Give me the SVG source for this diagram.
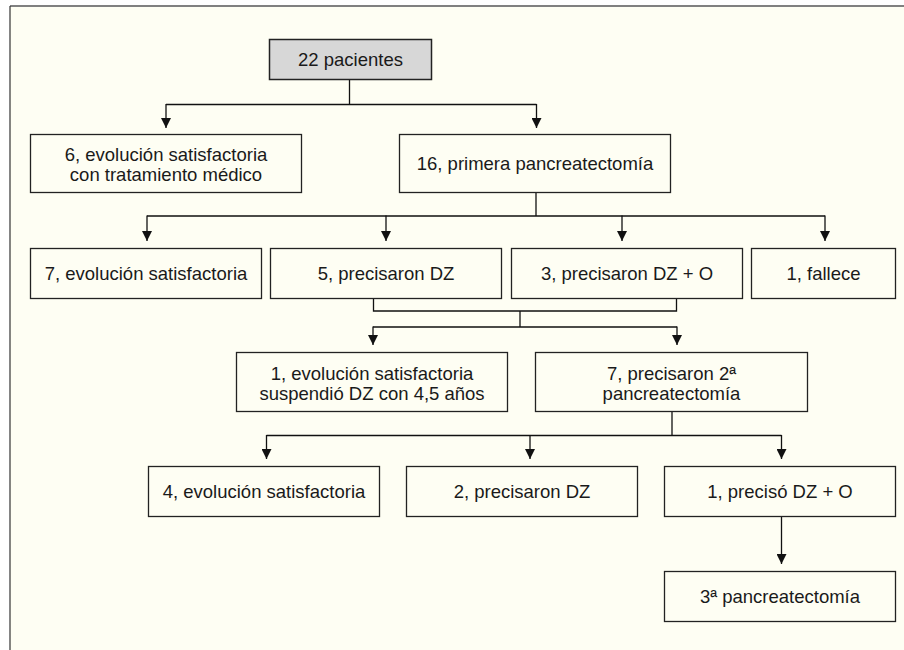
<svg xmlns="http://www.w3.org/2000/svg" width="904" height="650" viewBox="0 0 904 650">
<defs>
<style>
.box{fill:#fefef3;stroke:#222;stroke-width:1.3}
.gray{fill:#d7d7d7;stroke:#222;stroke-width:1.5}
.t{font-family:"Liberation Sans",Arial,Helvetica,sans-serif;font-size:18.5px;fill:#1a1a1a;text-anchor:middle}
.c{fill:none;stroke:#111;stroke-width:1.3}
.a{marker-end:url(#arr)}
</style>
<marker id="arr" markerUnits="userSpaceOnUse" markerWidth="10" markerHeight="10" refX="10" refY="5" orient="auto">
<path d="M0,0 L10,5 L0,10 z" fill="#111"/>
</marker>
</defs>
<rect x="0" y="0" width="904" height="650" fill="#ffffff"/>
<rect x="10" y="6" width="894" height="644" fill="#fefef3"/>
<line x1="10" y1="6" x2="904" y2="6" stroke="#808080" stroke-width="2"/>
<line x1="10" y1="6" x2="10" y2="650" stroke="#333" stroke-width="1.2"/>

<g id="connectors">
<path class="c" d="M349.5,80 V104.5 M166,104.5 H536.5"/>
<line class="c a" x1="166" y1="104" x2="166" y2="128"/>
<line class="c a" x1="536.5" y1="104" x2="536.5" y2="128"/>
<path class="c" d="M536,193 V216 M147,216 H825"/>
<line class="c a" x1="147" y1="215.5" x2="147" y2="241"/>
<line class="c a" x1="386" y1="215.5" x2="386" y2="241"/>
<line class="c a" x1="622" y1="215.5" x2="622" y2="241"/>
<line class="c a" x1="825" y1="215.5" x2="825" y2="241"/>
<path class="c" d="M373.5,298.5 V311 H676.5 V298.5 M520,311 V327 M373,327 H677"/>
<line class="c a" x1="373" y1="326.5" x2="373" y2="345"/>
<line class="c a" x1="677" y1="326.5" x2="677" y2="345"/>
<path class="c" d="M672,411.5 V435.5 M266.5,435.5 H781.5"/>
<line class="c a" x1="266.5" y1="435" x2="266.5" y2="459"/>
<line class="c a" x1="530" y1="435" x2="530" y2="459"/>
<line class="c a" x1="781.5" y1="435" x2="781.5" y2="459"/>
<line class="c a" x1="781.5" y1="516.5" x2="781.5" y2="564"/>
</g>

<g id="n22">
<rect class="gray" x="269.5" y="39.5" width="162" height="40"/>
<text class="t" x="350.5" y="66">22 pacientes</text>
</g>
<g id="n6">
<rect class="box" x="30.5" y="134.5" width="271" height="58"/>
<text class="t" x="166" y="161">6, evolución satisfactoria</text>
<text class="t" x="166" y="180.5">con tratamiento médico</text>
</g>
<g id="n16">
<rect class="box" x="399.5" y="134.5" width="271" height="58"/>
<text class="t" x="535" y="170">16, primera pancreatectomía</text>
</g>
<g id="n7a">
<rect class="box" x="30.5" y="248.5" width="231" height="50"/>
<text class="t" x="146" y="280">7, evolución satisfactoria</text>
</g>
<g id="n5a">
<rect class="box" x="270.5" y="248.5" width="231" height="50"/>
<text class="t" x="386" y="280">5, precisaron DZ</text>
</g>
<g id="n3a">
<rect class="box" x="511.5" y="248.5" width="231" height="50"/>
<text class="t" x="627" y="280">3, precisaron DZ + O</text>
</g>
<g id="n1f">
<rect class="box" x="751.5" y="248.5" width="144" height="50"/>
<text class="t" x="823.5" y="280">1, fallece</text>
</g>
<g id="n1e">
<rect class="box" x="236.5" y="352.5" width="271" height="59"/>
<text class="t" x="372" y="380">1, evolución satisfactoria</text>
<text class="t" x="372" y="400">suspendió DZ con 4,5 años</text>
</g>
<g id="n7p">
<rect class="box" x="535.5" y="352.5" width="272" height="59"/>
<text class="t" x="671.5" y="380">7, precisaron 2ª</text>
<text class="t" x="671.5" y="400">pancreatectomía</text>
</g>
<g id="n4">
<rect class="box" x="148.5" y="466.5" width="231" height="50"/>
<text class="t" x="264" y="498">4, evolución satisfactoria</text>
</g>
<g id="n2">
<rect class="box" x="406.5" y="466.5" width="231" height="50"/>
<text class="t" x="522" y="498">2, precisaron DZ</text>
</g>
<g id="n1p">
<rect class="box" x="664.5" y="466.5" width="231" height="50"/>
<text class="t" x="780" y="498">1, precisó DZ + O</text>
</g>
<g id="n3p">
<rect class="box" x="664.5" y="571.5" width="231" height="50"/>
<text class="t" x="780" y="603">3ª pancreatectomía</text>
</g>
</svg>
